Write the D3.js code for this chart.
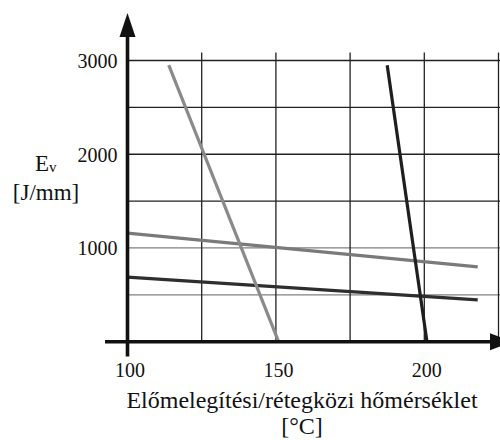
<!DOCTYPE html>
<html>
<head>
<meta charset="utf-8">
<script src="https://cdn.jsdelivr.net/npm/d3@7"></script>
<style>
  body { margin: 0; background: #fff; }
  text { font-family: "Liberation Serif", "Times New Roman", serif; fill: #111; }
</style>
</head>
<body>
<div id="chart"></div>
<script>
// tick values
var xTicks = [100, 150, 200];
var xGrid = [125, 150, 175, 200, 225];
var yTicks = [1000, 2000, 3000];
var yGrid = [500, 1000, 1500, 2000, 2500, 3000];

// four lines, each given by its end points [temperature, Ev]
var steepLight = [[113.9, 2950], [150.9, 0]];
var flatUpper = [[100, 1158], [218, 798]];
var flatLower = [[100, 688], [218, 446]];
var steepDark = [[187.5, 2950], [200.9, 0]];

var series = [
    { pts: flatUpper, color: "#7a7a7a" },
    { pts: flatLower, color: "#2e2e2e" },
    { pts: steepLight, color: "#8a8a8a" },
    { pts: steepDark, color: "#1e1e1e" }
];

var width = 500,
    height = 440;

var x = d3.scaleLinear().domain([100, 225]).range([127.5, 498.5]);
var y = d3.scaleLinear().domain([0, 3000]).range([341.7, 60.5]);

var svg = d3.select("#chart").append("svg")
    .attr("width", width)
    .attr("height", height);

// horizontal grid (upper ones black, lower ones grey)
svg.append("g").selectAll("line")
    .data(yGrid)
    .enter().append("line")
    .attr("x1", x(100))
    .attr("x2", width)
    .attr("y1", function(d) { return y(d); })
    .attr("y2", function(d) { return y(d); })
    .style("stroke", function(d) { return d >= 1500 ? "#222" : "#808080"; })
    .style("stroke-width", 1.3);

// vertical grid
svg.append("g").selectAll("line")
    .data(xGrid)
    .enter().append("line")
    .attr("x1", function(d) { return x(d); })
    .attr("x2", function(d) { return x(d); })
    .attr("y1", 52.5)
    .attr("y2", y(0))
    .style("stroke", "#222")
    .style("stroke-width", 1.3);

// data lines
var line = d3.line()
    .x(function(d) { return x(d[0]); })
    .y(function(d) { return y(d[1]); });

svg.append("g").selectAll("path")
    .data(series)
    .enter().append("path")
    .attr("d", function(d) { return line(d.pts); })
    .style("fill", "none")
    .style("stroke", function(d) { return d.color; })
    .style("stroke-width", 3.2);

// axes with arrows
svg.append("line")
    .attr("x1", x(100)).attr("x2", x(100))
    .attr("y1", 356.5).attr("y2", 34)
    .style("stroke", "#111").style("stroke-width", 3.6);
svg.append("path")
    .attr("d", "M" + (x(100) - 8) + ",37 L" + x(100) + ",13 L" + (x(100) + 8) + ",37 Z")
    .style("fill", "#111");

svg.append("line")
    .attr("x1", 105).attr("x2", 492)
    .attr("y1", y(0)).attr("y2", y(0))
    .style("stroke", "#111").style("stroke-width", 3.6);
svg.append("path")
    .attr("d", "M490," + (y(0) - 8.5) + " L513," + y(0) + " L490," + (y(0) + 8.5) + " Z")
    .style("fill", "#111");

// tick labels
var fmt = d3.format("d");

var yAxis = svg.append("g")
    .attr("transform", "translate(" + (x(100) - 10) + ",0)")
    .call(d3.axisLeft(y).tickValues(yTicks).tickFormat(fmt).tickSize(0).tickPadding(0));
yAxis.select(".domain").remove();
yAxis.selectAll("text")
    .attr("x", 0)
    .attr("dy", "0.35em")
    .style("font-size", "20px")
    .style("font-family", "Liberation Serif")
    .style("fill", "#111");

var xAxis = svg.append("g")
    .attr("transform", "translate(2," + 377 + ")")
    .call(d3.axisBottom(x).tickValues(xTicks).tickFormat(fmt).tickSize(0).tickPadding(0));
xAxis.select(".domain").remove();
xAxis.selectAll("text")
    .attr("y", 0)
    .attr("dy", 0)
    .style("font-size", "20px")
    .style("font-family", "Liberation Serif")
    .style("fill", "#111");

// axis titles
var ev = svg.append("text")
    .attr("x", 35)
    .attr("y", 171)
    .style("font-size", "23px");
ev.append("tspan").text("E");
ev.append("tspan").text("v")
    .attr("dy", 1)
    .style("font-size", "15px");

svg.append("text")
    .attr("x", 46)
    .attr("y", 200)
    .attr("text-anchor", "middle")
    .style("font-size", "23px")
    .text("[J/mm]");

svg.append("text")
    .attr("x", 302)
    .attr("y", 408)
    .attr("text-anchor", "middle")
    .style("font-size", "24px")
    .text("Előmelegítési/rétegközi hőmérséklet");

svg.append("text")
    .attr("x", 302)
    .attr("y", 434)
    .attr("text-anchor", "middle")
    .style("font-size", "24px")
    .text("[°C]");
</script>
</body>
</html>
